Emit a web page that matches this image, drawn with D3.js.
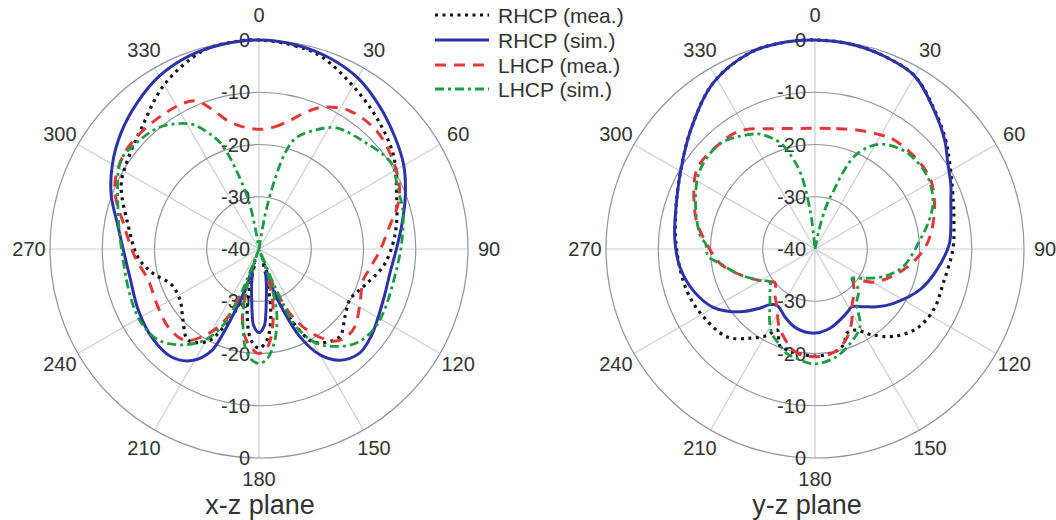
<!DOCTYPE html>
<html>
<head>
<meta charset="utf-8">
<script src="https://cdn.jsdelivr.net/npm/d3@7"></script>
<style>
  html, body { margin: 0; padding: 0; background: #fff; }
  svg { display: block; }
  text { font-family: "Liberation Sans", Arial, sans-serif; fill: #333; }
</style>
</head>
<body>
<svg id="chart" width="1056" height="520"></svg>
<script>
// ---------------- data (angle in degrees, gain in dB) ----------------
const angleTicks = [0, 30, 60, 90, 120, 150, 180, 210, 240, 270, 300, 330];
const radialTicks = [0, -10, -20, -30, -40];
const seriesNames = ["RHCP (mea.)", "RHCP (sim.)", "LHCP (mea.)", "LHCP (sim.)"];
const planeTitles = ["x-z plane", "y-z plane"];

// x-z plane
const xzRhcpMea = [[0,0],[10,-0.5],[18,-1.3],[30,-4],[42,-6.3],[55,-8.6],[68,-11.6],[80,-13.3],[88,-14.4],[98,-16],[109,-18.6],[119,-20.1],[128,-19.1],[137,-17.2],[143,-17.8],[150,-19.5],[155,-24.4],[159,-29],[161,-33.7],[163,-37.5],[166,-33],[170,-27],[175,-22.5],[180,-21],[185,-22.5],[190,-27],[194,-33],[197,-37.5],[199,-30.5],[201,-27],[205,-23],[209,-19.8],[218,-17.9],[227,-20.1],[237,-22],[248,-21.9],[257,-19.2],[266,-16.8],[280,-14.6],[295,-10.9],[305,-9.5],[316,-7.7],[330,-3.7],[344,-0.6],[352,-0.1]];
const xzRhcpSim = [[0,0],[10,-0.3],[20,-1.0],[30,-2.2],[40,-4.2],[50,-6.2],[60,-8],[70,-10.2],[80,-12.2],[90,-13.7],[100,-14.5],[110,-14.4],[120,-13.7],[128,-12.8],[136,-12.3],[144,-13.7],[150,-16.6],[155,-21.5],[158.5,-27.5],[161,-31.7],[163,-35.5],[166,-34.5],[169,-32.5],[172,-30],[174,-27.5],[176,-25.3],[180,-24],[184,-25.3],[186,-27.5],[188,-30],[191,-32.5],[194,-34.5],[197,-35.5],[199,-31.5],[201,-27.5],[203,-22.5],[205,-18.5],[211,-15.1],[219,-13.4],[230,-13.4],[243,-14.1],[258,-14.7],[270,-14],[280,-12.5],[290,-9.9],[300,-7.6],[310,-5.5],[320,-3.6],[330,-1.8],[340,-0.7],[350,-0.2]];
const xzLhcpMea = [[0,-17.1],[7,-16.5],[13,-14.9],[19,-12.3],[24,-10.3],[33,-8.4],[45,-8.1],[56,-9.2],[65,-10.4],[72,-12],[80,-14.6],[91,-16.9],[100,-18.5],[107,-19.2],[118,-18.1],[129,-16.4],[135,-16.3],[141,-17.3],[148.5,-21.4],[154.5,-26.4],[158,-31.9],[161,-35],[165,-30],[170,-25],[175,-21.2],[180,-20],[185,-21.2],[190,-23.5],[195,-28],[199,-33],[202,-31],[204.6,-25.7],[211,-21.1],[219,-17.5],[229.5,-17.1],[242,-17.8],[254,-18],[266.5,-16.2],[279.4,-13.9],[293.4,-9.9],[307.6,-8.3],[326.6,-8.4],[336.6,-9.1],[341,-11.5],[346.7,-14.9],[353,-16.5]];
const xzLhcpSim = [[0,-50],[6,-42],[10.3,-32.8],[13,-26],[15.4,-20.6],[18.4,-17.6],[25.6,-14.7],[32.6,-12.5],[44,-11.3],[57,-9.8],[66,-11],[75,-11.5],[88,-12.7],[101.5,-13.5],[116,-13.3],[125,-13.2],[134,-14.1],[141.6,-16.2],[148.7,-18.9],[154.4,-23.5],[156.4,-29.3],[157.5,-34],[158.5,-40],[161,-34],[164,-27.9],[168,-24],[171.8,-21.1],[176,-18.8],[180,-18.1],[184,-18.8],[188,-21],[191.6,-24.8],[195,-28.5],[198.5,-34],[200,-40],[201.5,-34],[202.4,-29.4],[204.8,-24.3],[210.8,-19.7],[219,-16.4],[228,-14],[237.7,-13.4],[248.2,-13.7],[265.4,-13.9],[285.5,-12],[302.6,-8.6],[310,-8.9],[320,-9.8],[327,-11.4],[332.6,-13.3],[338.5,-17.2],[340.4,-18.8],[343.7,-23.9],[348,-30.8],[350,-37],[354,-45]];

// y-z plane
const yzRhcpMea = [[0,0],[10,-0.2],[20,-0.8],[30,-1.8],[41,-5],[50,-7.4],[57,-9.3],[71,-12],[80,-13],[90,-13.6],[105,-14.6],[117,-14.5],[128,-15.3],[138,-17.5],[147,-20.5],[153,-22.6],[159,-22.8],[163,-21],[167,-20.2],[173,-19.7],[180,-19.5],[188,-19.7],[195,-20],[200,-20.3],[205,-22.9],[209,-21.1],[216,-18.9],[225,-16.2],[239,-15],[252,-14.2],[270,-13.5],[286,-12.3],[300.5,-10.2],[314,-7],[328.6,-2.7],[342,-0.4],[352,0]];
const yzRhcpSim = [[0,0],[10,-0.2],[20,-0.8],[30,-1.8],[40.6,-5],[50,-7.6],[57,-9.7],[65,-11.3],[71,-12.5],[80,-13.6],[88,-14.3],[100,-16.4],[111,-18.4],[125,-21.8],[133,-23.8],[140,-25.6],[147.5,-26.9],[152,-26.5],[157,-26],[169,-24.6],[180,-23.9],[193,-24.4],[204,-25.8],[209,-26.6],[214,-27],[219,-26.3],[223,-24.5],[230,-21.3],[240,-17.6],[251,-15.4],[262.5,-13.9],[274,-13.1],[286,-12.3],[300.5,-10.2],[314,-7],[328.6,-2.7],[342,-0.4],[352,0]];
const yzLhcpMea = [[0,-16.9],[10,-16.6],[20,-15.8],[30,-14.8],[36,-14.2],[49,-14],[59,-14.2],[69,-15.5],[81,-17.4],[90,-19.1],[101,-22],[112,-25],[120,-27.3],[128.5,-30.5],[135,-29.5],[140,-28.5],[147,-27],[153,-24.5],[160,-22],[167,-20.3],[173,-19.6],[180,-19.4],[187,-19.6],[193,-20.3],[198,-21.7],[205,-23.7],[213.6,-26.8],[222,-28.5],[230,-30],[235,-29.1],[242,-27.4],[252.8,-24.3],[261.4,-21.6],[273,-19.2],[282,-17],[291,-15.2],[304.4,-12.7],[318,-12.8],[325,-13],[330,-13.6],[340,-15.5],[350,-16.6]];
const yzLhcpSim = [[0,-50],[8,-40],[12,-36],[15.2,-30.9],[17.8,-28.2],[20,-24.5],[22.9,-20.8],[28,-17.8],[33.4,-16],[44,-14.5],[57.3,-14.4],[68.3,-15.7],[76,-17.5],[85,-19.8],[101.3,-22.8],[112,-25.9],[121.2,-29.2],[128.6,-31],[133,-28.6],[142.5,-26.9],[150,-22.8],[159.6,-20.7],[168.6,-19],[177.5,-18.1],[182.5,-18.1],[191,-18.9],[195.2,-19.3],[201,-20.6],[207.2,-21.9],[213,-24],[218,-26],[226,-28],[233.7,-29.3],[242,-27.4],[252.8,-24.3],[261.4,-21.6],[266,-19.5],[273,-19],[276,-18],[291,-15.5],[304.6,-13.3],[318.3,-12.9],[329.3,-14.6],[335,-15.8],[342,-18.7],[345,-21],[349.3,-25.3],[353,-33],[356,-40]];

// ---------------- drawing ----------------
const svg = d3.select("#chart");
svg.append("rect").attr("width", 1056).attr("height", 520).attr("fill", "#fff");

const R = 209;
const r = d3.scaleLinear().domain([-40, 0]).range([0, R]).clamp(true);
const ang = d3.scaleLinear().domain([0, 360]).range([0, 2 * Math.PI]);

const styles = [
  { color: "#141414", width: 3.2, dash: "3,4.5", cap: "butt" },
  { color: "#2b33a6", width: 3.0, dash: null, cap: "round" },
  { color: "#e2383a", width: 3.0, dash: "11,8", cap: "butt" },
  { color: "#1e9a45", width: 2.8, dash: "9,4,3,4", cap: "butt" }
];

const line = d3.lineRadial()
  .angle(d => ang(d[0]))
  .radius(d => r(d[1]))
  .curve(d3.curveCatmullRomClosed.alpha(0.5));

// label distance beyond the outer ring (a bit further at top)
function labelR(a) {
  const c = Math.cos(ang(a));
  return R + 21 + (c > 0.9 ? 4 : 0);
}

function drawPolar(cx, cy, data, title, titleX) {
  const g = svg.append("g").attr("transform", `translate(${cx},${cy})`);

  g.selectAll("line.spoke").data(angleTicks).join("line")
    .attr("class", "spoke")
    .attr("x1", 0).attr("y1", 0)
    .attr("x2", d => R * Math.sin(ang(d)))
    .attr("y2", d => -R * Math.cos(ang(d)))
    .attr("stroke", "#cbcdd8").attr("stroke-width", 1.2);

  g.selectAll("circle.ring").data(radialTicks.filter(t => t > -40)).join("circle")
    .attr("class", "ring")
    .attr("r", d => r(d))
    .attr("fill", "none")
    .attr("stroke", "#8f94a6").attr("stroke-width", 1.2);

  g.selectAll("text.rt").data(radialTicks).join("text")
    .attr("class", "rt")
    .attr("x", -9).attr("y", d => -r(d))
    .attr("text-anchor", "end").attr("dominant-baseline", "central")
    .attr("font-size", 20)
    .text(d => d);
  g.selectAll("text.rb").data(radialTicks.filter(t => t > -40)).join("text")
    .attr("class", "rb")
    .attr("x", -9).attr("y", d => r(d))
    .attr("text-anchor", "end").attr("dominant-baseline", "central")
    .attr("font-size", 20)
    .text(d => d);

  g.selectAll("text.at").data(angleTicks).join("text")
    .attr("class", "at")
    .attr("x", d => labelR(d) * Math.sin(ang(d)))
    .attr("y", d => -labelR(d) * Math.cos(ang(d)))
    .attr("text-anchor", "middle").attr("dominant-baseline", "central")
    .attr("font-size", 20)
    .text(d => d);

  data.forEach((s, i) => {
    const st = styles[i];
    g.append("path")
      .attr("d", line(s))
      .attr("fill", "none")
      .attr("stroke", st.color)
      .attr("stroke-width", st.width)
      .attr("stroke-dasharray", st.dash)
      .attr("stroke-linecap", st.cap)
      .attr("stroke-linejoin", "round");
  });

  svg.append("text")
    .attr("x", titleX).attr("y", 514)
    .attr("text-anchor", "middle")
    .attr("font-size", 27)
    .attr("fill", "#222")
    .text(title);
}

drawPolar(259, 249, [xzRhcpMea, xzRhcpSim, xzLhcpMea, xzLhcpSim], planeTitles[0], 260);
drawPolar(815, 249, [yzRhcpMea, yzRhcpSim, yzLhcpMea, yzLhcpSim], planeTitles[1], 807);

// legend
const legY = [15, 40, 65, 89];
const leg = svg.append("g");
seriesNames.forEach((name, i) => {
  const st = styles[i];
  leg.append("line")
    .attr("x1", 435).attr("x2", 489)
    .attr("y1", legY[i]).attr("y2", legY[i])
    .attr("stroke", st.color)
    .attr("stroke-width", st.width)
    .attr("stroke-dasharray", st.dash);
  leg.append("text")
    .attr("x", 498).attr("y", legY[i])
    .attr("dominant-baseline", "central")
    .attr("font-size", 21)
    .text(name);
});
</script>
</body>
</html>
